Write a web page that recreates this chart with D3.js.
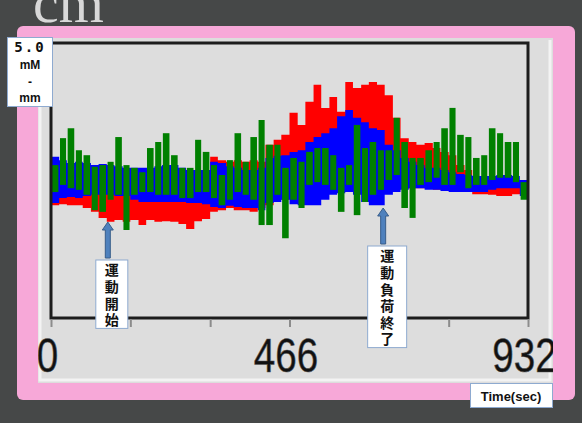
<!DOCTYPE html>
<html>
<head>
<meta charset="utf-8">
<script src="https://cdn.jsdelivr.net/npm/d3@7"></script>
<style>
  html, body { margin: 0; padding: 0; background: #464848; }
  svg { display: block; }
</style>
</head>
<body>
<svg id="chart" width="582" height="423"></svg>
<script>
// ---- data (mM·mm, sampled every ~15.5 s over 932 s) ----
const timeSec = [0, 16, 31, 47, 62, 78, 93, 109, 124, 140, 155, 171, 186, 202, 217, 233, 249, 264, 280, 295,
                 311, 326, 342, 357, 373, 388, 404, 419, 435, 450, 466, 482, 497, 513, 528, 544, 559, 575, 590, 606,
                 621, 637, 652, 668, 683, 699, 714, 730, 746, 761, 777, 792, 808, 823, 839, 854, 870, 885, 901, 916];
const endSec = 932;

// upper / lower envelope of each trace within a sample interval
const redHi = [2.42, 2.42, 2.42, 2.38, 2.36, 2.33, 2.33, 2.33, 2.33, 2.33, 2.29, 2.29, 2.29, 2.29, 2.29, 2.29, 2.29, 2.29, 2.33, 2.33,
               2.93, 2.87, 2.84, 2.87, 2.84, 2.87, 2.84, 3.15, 3.24, 3.33, 3.73, 3.51, 3.93, 4.24, 3.82, 4.02, 3.75, 4.29, 4.18, 4.24,
               4.29, 4.24, 4.05, 3.64, 3.27, 3.20, 3.15, 3.18, 3.09, 3.02, 2.96, 2.78, 2.69, 2.51, 2.42, 2.42, 2.40, 2.40, 2.40, 2.40];
const redLo = [2.05, 2.07, 2.05, 2.05, 2.00, 1.93, 1.82, 1.75, 1.78, 1.75, 1.78, 1.69, 1.78, 1.75, 1.76, 1.75, 1.71, 1.62, 1.76, 1.80,
               1.93, 1.96, 2.00, 1.96, 1.96, 1.93, 2.00, 2.05, 2.15, 2.15, 2.18, 2.24, 2.24, 2.24, 2.29, 2.33, 2.36, 2.36, 2.36, 2.33,
               2.29, 2.29, 2.29, 2.33, 2.36, 2.36, 2.36, 2.36, 2.33, 2.33, 2.33, 2.29, 2.29, 2.25, 2.25, 2.24, 2.22, 2.22, 2.25, 2.25];

const blueHi = [2.93, 2.87, 2.82, 2.84, 2.82, 2.78, 2.80, 2.78, 2.76, 2.73, 2.73, 2.73, 2.73, 2.76, 2.78, 2.78, 2.73, 2.69, 2.69, 2.69,
                2.84, 2.82, 2.76, 2.73, 2.69, 2.69, 2.73, 2.91, 2.95, 2.96, 3.02, 3.05, 3.20, 3.29, 3.36, 3.45, 3.67, 3.78, 3.64, 3.56,
                3.45, 3.42, 3.15, 3.05, 2.91, 2.84, 2.78, 2.73, 2.73, 2.69, 2.65, 2.62, 2.60, 2.58, 2.58, 2.58, 2.60, 2.60, 2.58, 2.51];
const blueLo = [2.09, 2.18, 2.20, 2.18, 2.22, 2.24, 2.24, 2.24, 2.22, 2.22, 2.15, 2.11, 2.11, 2.11, 2.11, 2.11, 2.11, 2.09, 2.09, 2.07,
                2.02, 2.00, 2.04, 2.02, 2.00, 2.00, 1.96, 2.09, 2.11, 2.15, 2.07, 2.05, 2.05, 2.05, 2.15, 2.24, 2.27, 2.29, 2.24, 2.11,
                2.05, 2.05, 2.24, 2.29, 2.33, 2.36, 2.36, 2.33, 2.33, 2.31, 2.29, 2.29, 2.29, 2.29, 2.29, 2.33, 2.36, 2.36, 2.36, 2.22];

const greenHi = [2.78, 3.27, 3.45, 3.05, 2.96, 2.75, 2.78, 2.84, 3.29, 2.78, 2.73, 2.65, 3.09, 3.20, 3.36, 2.96, 2.73, 2.73, 3.24, 3.02,
                 2.78, 2.60, 2.87, 3.36, 2.84, 3.29, 3.60, 3.15, 3.15, 2.73, 2.91, 2.84, 3.02, 3.09, 3.09, 2.96, 2.73, 2.78, 3.51, 3.09,
                 3.20, 3.05, 3.05, 3.64, 3.20, 2.91, 2.91, 3.05, 3.20, 3.45, 3.82, 3.33, 3.29, 2.91, 2.96, 3.45, 3.36, 3.20, 3.20, 2.47];
const greenLo = [2.29, 2.42, 2.36, 2.33, 2.24, 1.96, 1.93, 2.15, 2.24, 1.60, 2.24, 2.29, 2.29, 2.24, 2.24, 2.24, 2.18, 2.18, 2.29, 2.29,
                 2.18, 2.05, 2.15, 2.29, 2.24, 2.15, 1.69, 1.69, 2.24, 1.45, 2.15, 2.00, 2.42, 2.47, 2.42, 2.33, 1.93, 2.42, 1.87, 2.11,
                 2.24, 2.33, 2.51, 2.60, 2.00, 1.82, 2.42, 2.47, 2.55, 2.42, 2.42, 2.65, 2.36, 2.42, 2.42, 2.51, 2.55, 2.55, 2.47, 2.15];

const yFullScale = 5.0;
const yUnitLines = ["5.0", "mM", "-", "mm"];
const xTicks = [0, 155, 311, 466, 621, 777, 932];
const xTickLabels = [0, 466, 932];
const xTitle = "Time(sec)";
const events = [
  { t: 111, label: "運動開始" },
  { t: 649, label: "運動負荷終了" }
];
const windowCaption = "cm";

// ---- layout ----
const svg = d3.select("#chart");
const plot = { left: 51, right: 528, top: 43, bottom: 318 };

const x = d3.scaleLinear().domain([0, endSec]).range([plot.left, plot.right]);
const y = d3.scaleLinear().domain([0, yFullScale]).range([plot.bottom, plot.top]);

const defs = svg.append("defs");
defs.append("clipPath").attr("id", "plotClip")
  .append("rect").attr("x", plot.left).attr("y", plot.top)
  .attr("width", plot.right - plot.left).attr("height", plot.bottom - plot.top);
defs.append("clipPath").attr("id", "panelClip")
  .append("rect").attr("x", 38).attr("y", 38).attr("width", 515).attr("height", 345);

// window background and caption remnant
svg.append("rect").attr("width", 582).attr("height", 423).attr("fill", "#464848");
svg.append("text").attr("x", 33).attr("y", 22)
  .attr("font-family", "Liberation Serif, serif").attr("font-size", 58)
  .attr("fill", "#d8d8d8").text(windowCaption);

// pink frame and grey panel
svg.append("rect").attr("x", 17).attr("y", 26).attr("width", 558).attr("height", 374)
  .attr("rx", 6).attr("fill", "#f7a8d8");
svg.append("rect").attr("x", 38).attr("y", 38).attr("width", 515).attr("height", 345)
  .attr("fill", "#dddddd");
// light bevel on the panel edges
svg.append("path")
  .attr("d", "M40,40 V380 H550 V40")
  .attr("fill", "none").attr("stroke", "#f3f3f3").attr("stroke-width", 3);

// ---- traces ----
const gData = svg.append("g").attr("clip-path", "url(#plotClip)");

function bandPoints(hi, lo) {
  const pts = timeSec.map((t, i) => ({ t, hi: hi[i], lo: lo[i] }));
  pts.push({ t: endSec, hi: hi[hi.length - 1], lo: lo[lo.length - 1] });
  return pts;
}
const band = d3.area().curve(d3.curveStepAfter)
  .x(d => x(d.t)).y0(d => y(d.lo)).y1(d => y(d.hi));

gData.append("path").datum(bandPoints(redHi, redLo)).attr("d", band).attr("fill", "#ff0000");
gData.append("path").datum(bandPoints(blueHi, blueLo)).attr("d", band).attr("fill", "#0000ff");

const greenCols = timeSec.map((t, i) => ({
  t0: t, t1: i + 1 < timeSec.length ? timeSec[i + 1] : endSec, hi: greenHi[i], lo: greenLo[i]
}));
gData.selectAll("rect.g").data(greenCols).join("rect")
  .attr("class", "g")
  .attr("x", d => x(d.t0) + 0.8)
  .attr("width", d => Math.max(1, x(d.t1) - x(d.t0) - 1.6))
  .attr("y", d => y(d.hi))
  .attr("height", d => y(d.lo) - y(d.hi))
  .attr("fill", "#008000");

// ---- axes frame ----
svg.append("rect")
  .attr("x", plot.left).attr("y", plot.top)
  .attr("width", plot.right - plot.left).attr("height", plot.bottom - plot.top)
  .attr("fill", "none").attr("stroke", "#1c1c1c").attr("stroke-width", 3);

const xAxis = d3.axisBottom(x).tickValues(xTicks).tickSize(8).tickFormat("");
const gAxis = svg.append("g").attr("transform", `translate(0,${plot.bottom + 1})`).call(xAxis);
gAxis.select(".domain").remove();
gAxis.selectAll(".tick line").attr("stroke", "#8c8c8c").attr("stroke-width", 2);

svg.append("g").attr("clip-path", "url(#panelClip)")
  .selectAll("text.tl").data(xTickLabels).join("text")
  .attr("class", "tl")
  .attr("x", d => x(d) - 3.5).attr("y", 372)
  .attr("text-anchor", "middle")
  .attr("font-family", "Liberation Sans, Arial, sans-serif")
  .attr("font-size", 49)
  .attr("textLength", d => String(d).length * 21.5)
  .attr("lengthAdjust", "spacingAndGlyphs")
  .attr("fill", "#111").attr("stroke", "#555").attr("stroke-width", 0.6)
  .text(d => d);

// ---- event markers ----
const markerTip = [222, 208];
const boxTop = [260, 246];
const boxW = [32, 39];
events.forEach((ev, k) => {
  const ax = x(ev.t);
  const tip = markerTip[k], base = boxTop[k] - 2;
  const p = d3.path();
  p.moveTo(ax, tip);
  p.lineTo(ax + 5.5, tip + 8);
  p.lineTo(ax + 2.5, tip + 8);
  p.lineTo(ax + 2.5, base);
  p.lineTo(ax - 2.5, base);
  p.lineTo(ax - 2.5, tip + 8);
  p.lineTo(ax - 5.5, tip + 8);
  p.closePath();
  svg.append("path").attr("d", p.toString())
    .attr("fill", "#4f81bd").attr("stroke", "#385d8a").attr("stroke-width", 1);

  const n = Array.from(ev.label).length;
  const cx = ax + 4;
  const h = n * 16.6 + 2;
  svg.append("rect")
    .attr("x", cx - boxW[k] / 2).attr("y", boxTop[k])
    .attr("width", boxW[k]).attr("height", h)
    .attr("fill", "#ffffff").attr("stroke", "#8eaad0").attr("stroke-width", 1);
  // vertical label, one column of characters
  svg.append("text")
    .attr("x", cx).attr("y", boxTop[k] + 3)
    .attr("writing-mode", "vertical-rl")
    .attr("letter-spacing", 2.6)
    .attr("font-family", "Noto Sans CJK JP, sans-serif")
    .attr("font-weight", 700).attr("font-size", 14)
    .attr("fill", "#111")
    .text(ev.label);
});

// ---- unit label (top-left) ----
svg.append("rect").attr("x", 7.5).attr("y", 37.5).attr("width", 45).attr("height", 69)
  .attr("fill", "#ffffff").attr("stroke", "#8eaad0").attr("stroke-width", 1);
const unitY = [47, 65, 82, 98];
const unitSize = [14, 12, 12, 12];
svg.append("g").selectAll("text").data(yUnitLines).join("text")
  .attr("x", 30).attr("y", (d, i) => unitY[i])
  .attr("text-anchor", "middle").attr("dominant-baseline", "central")
  .attr("font-family", (d, i) => i === 0 ? "DejaVu Sans Mono, monospace" : "Liberation Sans, Arial, sans-serif")
  .attr("font-weight", 700)
  .attr("font-size", (d, i) => unitSize[i])
  .attr("letter-spacing", (d, i) => i === 0 ? 2 : 0)
  .attr("fill", "#111")
  .text(d => d);

// ---- x title box ----
svg.append("rect").attr("x", 470.5).attr("y", 383.5).attr("width", 82).attr("height", 24)
  .attr("fill", "#ffffff").attr("stroke", "#8eaad0").attr("stroke-width", 1);
svg.append("text").attr("x", 511).attr("y", 396)
  .attr("text-anchor", "middle").attr("dominant-baseline", "central")
  .attr("font-family", "Liberation Sans, Arial, sans-serif")
  .attr("font-weight", 700).attr("font-size", 13)
  .attr("fill", "#111").text(xTitle);
</script>
</body>
</html>
